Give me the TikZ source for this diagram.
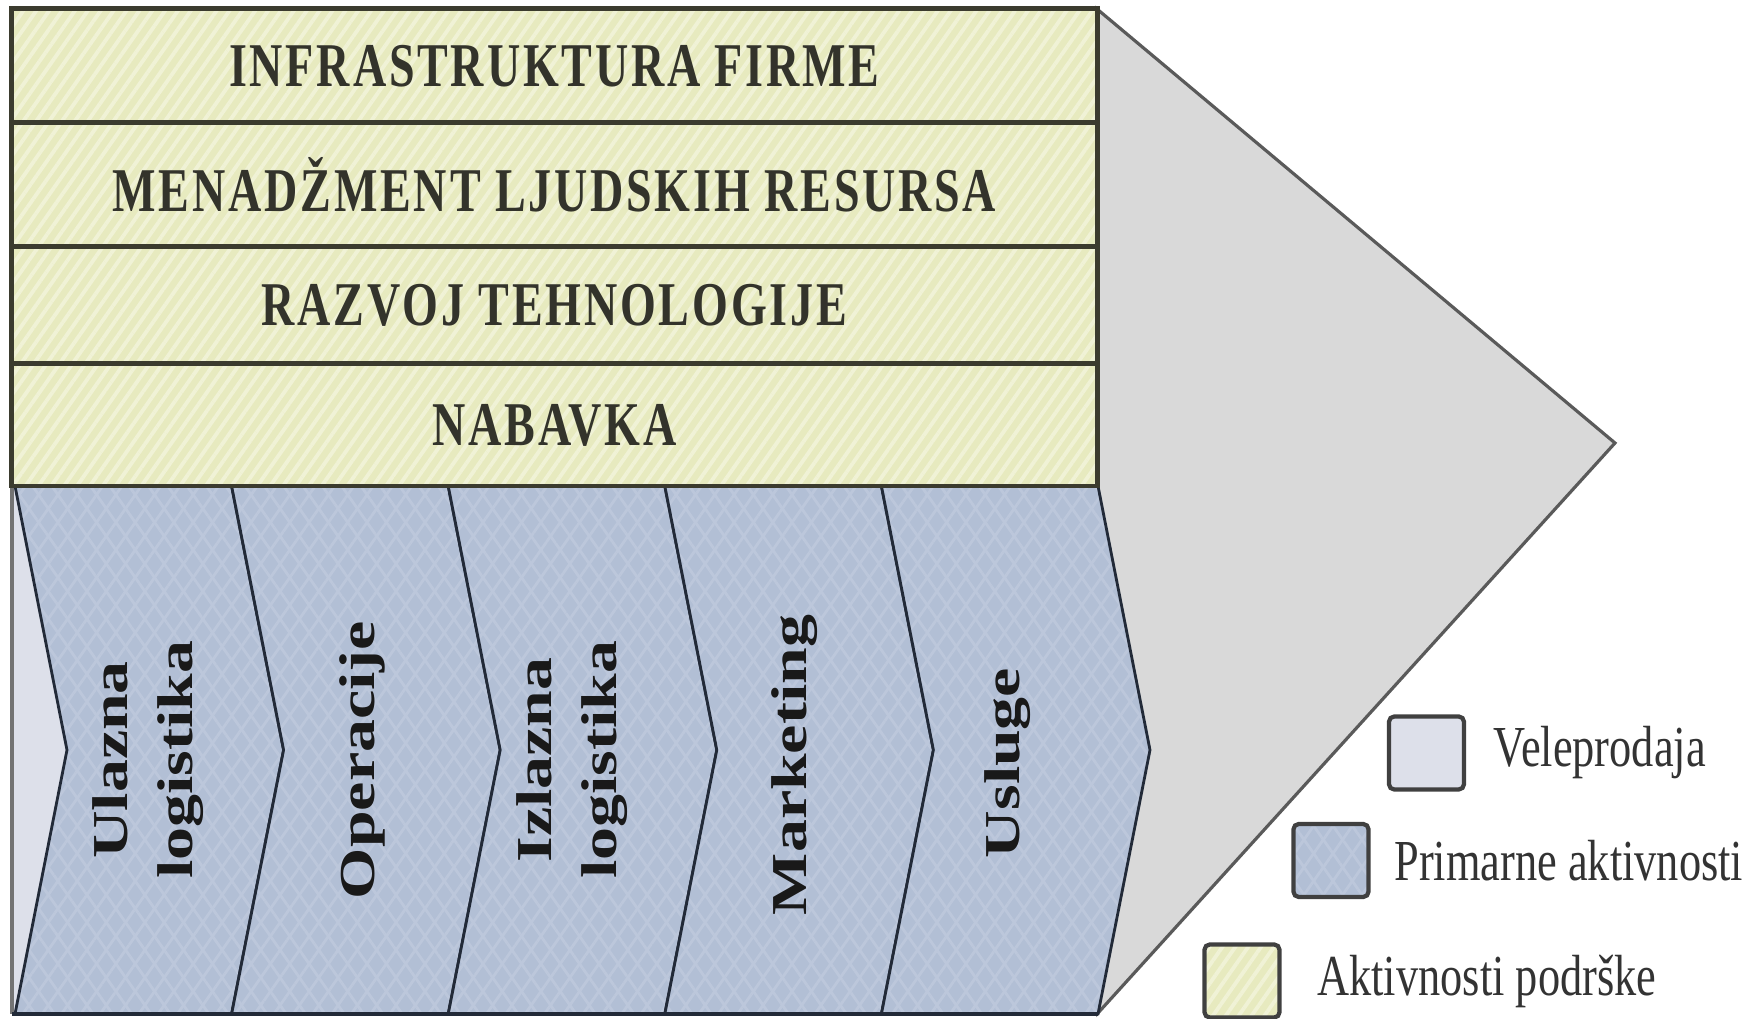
\documentclass[tikz,border=0pt]{standalone}
\usepackage{fontspec}
\setmainfont{Liberation Serif}
\newfontfamily\rowfont[FakeStretch=0.74,LetterSpace=4.5]{Liberation Serif}
\newfontfamily\primfont[FakeStretch=1.31]{Liberation Serif}
\newfontfamily\legfont[FakeStretch=0.765]{Liberation Serif}
\usetikzlibrary{positioning,patterns.meta}

\definecolor{supfill}{HTML}{E7EABF}
\definecolor{supstripe}{HTML}{F0F2D6}
\definecolor{supline}{HTML}{3B3B2E}
\definecolor{primfill}{HTML}{B2BFD5}
\definecolor{primhatch}{HTML}{BCC7DB}
\definecolor{primline}{HTML}{222A38}
\definecolor{wholefill}{HTML}{DDE0EA}
\definecolor{margfill}{HTML}{D9D9D9}
\definecolor{margline}{HTML}{5A5A5A}
\definecolor{txtdark}{HTML}{33332B}

\tikzset{
  supfillst/.style={preaction={fill=supfill},
    preaction={pattern={Lines[angle=55,distance=3pt,line width=1.1pt]},pattern color=supstripe}},
  primfillst/.style={preaction={fill=primfill},
    preaction={pattern={Lines[angle=55,distance=4.5pt,line width=0.8pt]},pattern color=primhatch},
    preaction={pattern={Lines[angle=-55,distance=4.5pt,line width=0.8pt]},pattern color=primhatch}},
  suprow/.style={supfillst, draw=supline, line width=1.4pt, minimum width=10.85cm,
    text=txtdark, font=\rowfont\bfseries\fontsize{17.7}{20}\selectfont},
  primarea/.style={primfillst, draw=primline, line width=0.8pt},
  primlabel/.style={rotate=90, align=center, text=black!90,
    font=\primfont\bfseries\fontsize{14.3}{18.4}\selectfont},
  legbox/.style={draw=black!75, line width=1.2pt, rounded corners=1.5pt,
    minimum width=0.75cm, minimum height=0.73cm, inner sep=0pt},
  legtext/.style={inner sep=0pt, text=black!80, font=\legfont\fontsize{16.5}{18}\selectfont}
}

\begin{document}
\begin{tikzpicture}[x=0.01cm,y=-0.01cm]
  \useasboundingbox (0,0) rectangle (1756,1019);
  % margin triangle
  \filldraw[fill=margfill, draw=margline, line width=0.9pt] (1097,9) -- (1615,443) -- (1098,1013) -- cycle;
  % primary activities
  \fill[wholefill] (12,486) -- (15,486) -- (67,750) -- (15,1014) -- (12,1014) -- cycle;
  \foreach \i in {0,...,4} {
    \pgfmathsetmacro\xa{15+216.6*\i}
    \pgfmathsetmacro\xb{15+216.6*(\i+1)}
    \draw[primarea] (\xa,486) -- (\xb,486) -- (\xb+52,750) -- (\xb,1014) -- (\xa,1014) -- (\xa+52,750) -- cycle;
  }
  \draw[black!55, line width=1pt] (12,486) -- (12,1014);
  \draw[primline, line width=1pt] (12,1014) -- (1098,1014);
  \node[primlabel] (inlog) at (148,760) {Ulazna\\logistika};
  \node[primlabel] (ops) at (362,760) {Operacije};
  \node[primlabel] (outlog) at (572,760) {Izlazna\\logistika};
  \node[primlabel] (mkt) at (795,765) {Marketing};
  \node[primlabel] (serv) at (1008,763) {Usluge};
  % support activities
  \node[suprow, minimum height=1.14cm] (infra) at (554.5,66) {INFRASTRUKTURA FIRME};
  \node[suprow, minimum height=1.24cm] (hrm) at (554.5,185) {MENADŽMENT LJUDSKIH RESURSA};
  \node[suprow, minimum height=1.17cm] (tech) at (554.5,305.5) {RAZVOJ TEHNOLOGIJE};
  \node[suprow, minimum height=1.22cm] (proc) at (554.5,425) {NABAVKA};
  % legend
  \node[legbox, fill=wholefill] (lgwhole) at (1426.5,753) {};
  \node[legtext, right=0.27cm of lgwhole] (lgwholetxt) {Veleprodaja};
  \node[legbox, primfillst] (lgprim) at (1331,860.5) {};
  \node[legtext, right=0.23cm of lgprim] (lgprimtxt) {Primarne aktivnosti};
  \node[legbox, supfillst] (lgsup) at (1242,981) {};
  \node[legtext, right=0.35cm of lgsup] (lgsuptxt) {Aktivnosti podrške};
\end{tikzpicture}
\end{document}
